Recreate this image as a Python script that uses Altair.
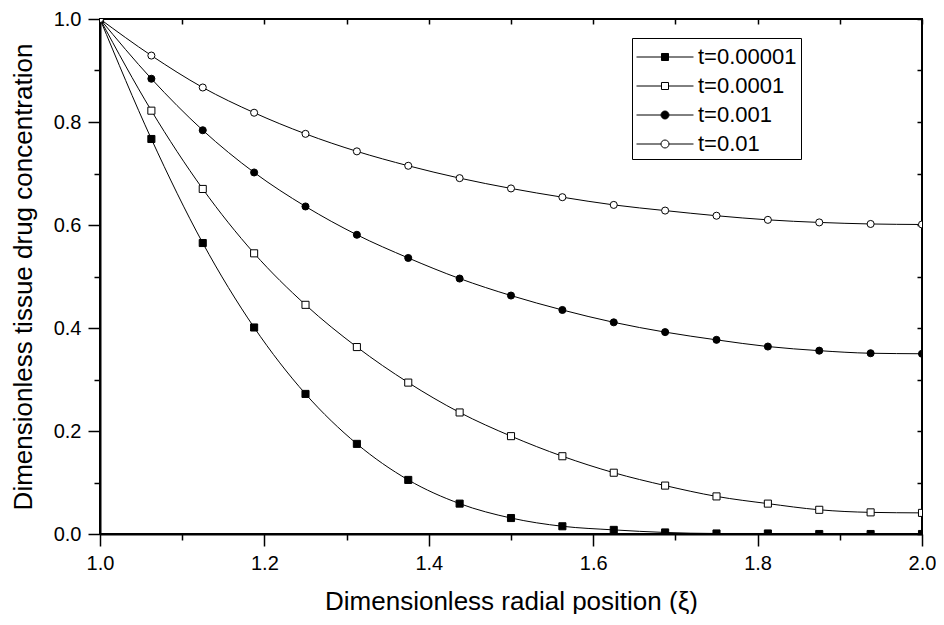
import altair as alt
import pandas as pd

# ---------------- data ----------------
xi = [1.0, 1.0625, 1.125, 1.1875, 1.25, 1.3125, 1.375, 1.4375, 1.5,
      1.5625, 1.625, 1.6875, 1.75, 1.8125, 1.875, 1.9375, 2.0]

series_names = ["t=0.00001", "t=0.0001", "t=0.001", "t=0.01"]

c_t00001 = [1.0, 0.767, 0.565, 0.401, 0.272, 0.175, 0.105, 0.059, 0.031,
            0.015, 0.008, 0.003, 0.001, 0.001, 0.0, 0.0, 0.0]
c_t0001 = [1.0, 0.822, 0.670, 0.545, 0.445, 0.363, 0.294, 0.236, 0.190,
           0.151, 0.119, 0.094, 0.073, 0.059, 0.047, 0.042, 0.041]
c_t001 = [1.0, 0.884, 0.784, 0.702, 0.636, 0.581, 0.536, 0.496, 0.463,
          0.435, 0.411, 0.392, 0.377, 0.364, 0.356, 0.351, 0.350]
c_t01 = [1.0, 0.929, 0.867, 0.818, 0.777, 0.743, 0.715, 0.691, 0.671,
         0.654, 0.639, 0.628, 0.618, 0.610, 0.605, 0.602, 0.601]

x_ticks = [1.0, 1.1, 1.2, 1.3, 1.4, 1.5, 1.6, 1.7, 1.8, 1.9, 2.0]
y_ticks = [0.0, 0.1, 0.2, 0.3, 0.4, 0.5, 0.6, 0.7, 0.8, 0.9, 1.0]

# ---------------- table ----------------
rows = []
for name, vals in zip(series_names, [c_t00001, c_t0001, c_t001, c_t01]):
    for x, v in zip(xi, vals):
        rows.append({"xi": x, "c": v, "series": name})
df = pd.DataFrame(rows)

FONT = "Liberation Sans"
major_test = "round(datum.value*10) % 2 == 0"
label_expr = f"{major_test} ? format(datum.value, '.1f') : ''"

x_scale = alt.Scale(domain=[1.0, 2.0], nice=False, zero=False)
y_scale = alt.Scale(domain=[0.0, 1.0], nice=False)

x_axis_main = alt.Axis(
    orient="bottom", values=x_ticks, labelExpr=label_expr,
    tickSize={"condition": {"test": major_test, "value": 12}, "value": 6},
    tickWidth=1.5, tickColor="black", domainColor="black", domainWidth=2,
    labelFont=FONT, labelFontSize=20, labelColor="black", labelPadding=7,
    labelFlush=False, labelOverlap=False, grid=False,
    title="Dimensionless radial position (ξ)", titleFont=FONT,
    titleFontSize=26, titleFontWeight="normal", titleColor="black",
    titleY=75, titleBaseline="alphabetic",
)
y_axis_main = alt.Axis(
    orient="left", values=y_ticks, labelExpr=label_expr,
    tickSize={"condition": {"test": major_test, "value": 12}, "value": 6},
    tickWidth=1.5, tickColor="black", domainColor="black", domainWidth=2,
    labelFont=FONT, labelFontSize=20, labelColor="black", labelPadding=7,
    labelFlush=False, labelOverlap=False, grid=False,
    title="Dimensionless tissue drug concentration", titleFont=FONT,
    titleFontSize=26, titleFontWeight="normal", titleColor="black",
    titleX=-77, titleBaseline="middle",
)
x_axis_top = alt.Axis(
    orient="top", values=x_ticks, labels=False, domain=False, grid=False,
    tickSize=5, offset=-5, tickWidth=1.5, tickColor="black", title=None,
)
y_axis_right = alt.Axis(
    orient="right", values=y_ticks, labels=False, domain=False, grid=False,
    tickSize=5, offset=-5, tickWidth=1.5, tickColor="black", title=None,
)

base = alt.Chart(df)

lines = base.mark_line(interpolate="monotone", color="black", strokeWidth=1).encode(
    x=alt.X("xi:Q", scale=x_scale, axis=x_axis_main),
    y=alt.Y("c:Q", scale=y_scale, axis=y_axis_main),
    detail="series:N",
)

points = base.mark_point(filled=True, stroke="black", strokeWidth=1, size=50,
                         opacity=1, clip=True).encode(
    x=alt.X("xi:Q", scale=x_scale, axis=None),
    y=alt.Y("c:Q", scale=y_scale, axis=None),
    shape=alt.Shape("series:N", scale=alt.Scale(
        domain=series_names, range=["square", "square", "circle", "circle"]), legend=None),
    fill=alt.Fill("series:N", scale=alt.Scale(
        domain=series_names, range=["black", "white", "black", "white"]), legend=None),
)

# legend glyphs: line segment through the marker (symbol size 812 -> unit = 14.25 px)
sq = "M-0.246,-0.246H0.246V0.246H-0.246Z"
ci = "M0.28,0A0.28,0.28 0 1,1 -0.28,0A0.28,0.28 0 1,1 0.28,0Z"
line_sq = "M-2,0H-0.246M0.246,0H2" + sq
line_ci = "M-2,0H-0.28M0.28,0H2" + ci

leg = alt.Legend(title=None)
legend_layer = base.transform_filter("false").mark_point(
    filled=True, strokeWidth=1, size=812, opacity=1).encode(
    x=alt.X("xi:Q", scale=x_scale, axis=x_axis_top),
    y=alt.Y("c:Q", scale=y_scale, axis=y_axis_right),
    shape=alt.Shape("series:N", scale=alt.Scale(
        domain=series_names, range=[line_sq, line_sq, line_ci, line_ci]), legend=leg),
    fill=alt.Fill("series:N", scale=alt.Scale(
        domain=series_names, range=["black", "white", "black", "white"]), legend=leg),
    stroke=alt.Stroke("series:N", scale=alt.Scale(
        domain=series_names, range=["black", "black", "black", "black"]), legend=leg),
)

chart = alt.layer(lines, points, legend_layer).resolve_scale(
    shape="independent", fill="independent", stroke="independent"
).resolve_axis(
    x="independent", y="independent"
).properties(
    width=822, height=515,
    autosize=alt.AutoSizeParams(type="none"),
    padding={"left": 92, "top": 11, "right": 14, "bottom": 80},
    background="white",
).configure_view(
    stroke="black", strokeWidth=2
).configure_legend(
    orient="none", legendX=532, legendY=19,
    strokeColor="black", strokeWidth=1, fillColor="white",
    padding=4, rowPadding=3, cornerRadius=0,
    symbolSize=812, symbolStrokeWidth=1, symbolOffset=14,
    symbolOpacity=1, labelOffset=18,
    labelFont=FONT, labelFontSize=22, labelColor="black",
)

chart.save("out.html", embed_options={"renderer": "svg", "actions": False})
